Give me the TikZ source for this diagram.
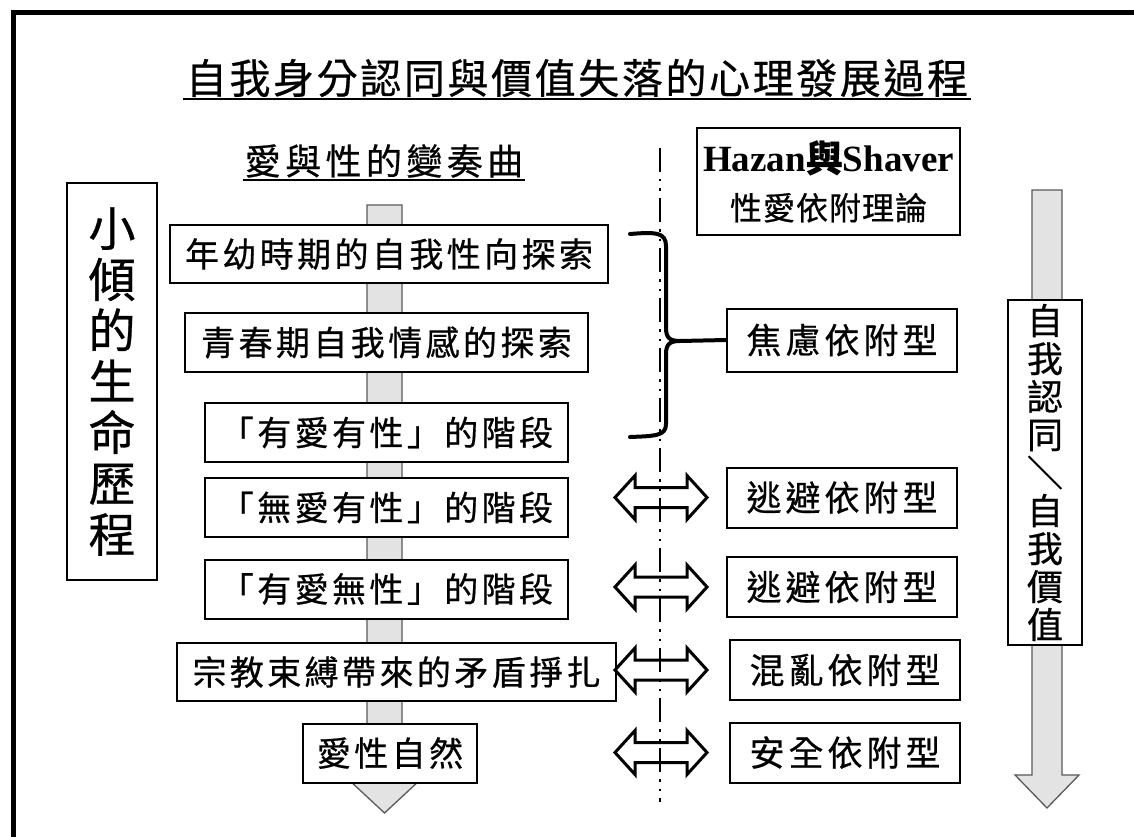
\documentclass[tikz,border=0pt]{standalone}
\usepackage{fontspec}
\setmainfont{Noto Sans CJK TC}[FakeBold=0.6]
\newfontfamily\latinb{Liberation Serif}
\usetikzlibrary{calc}
\ExplSyntaxOn
\NewDocumentCommand\spc{O{0.2em} m}{\tl_map_inline:nn {#2}{##1\kern#1}\unkern}
\ExplSyntaxOff
\tikzset{
  box/.style={draw, line width=2pt, fill=white, inner sep=0pt, font=\fontsize{34}{34}\selectfont},
  rbox/.style={box, font=\fontsize{35}{35}\selectfont, minimum width=230pt, minimum height=60pt},
  graybar/.style={fill=gray!22, draw=gray!70!black, line width=1.3pt},
  hollow/.style={draw, line width=3pt, line join=miter},
  dashdot/.style={line width=2.5pt, dash pattern=on 24pt off 7pt on 2.5pt off 7pt on 2.5pt off 7pt},
  dblarr/.pic={\draw[hollow] (-46,0) -- (-26,-22) -- (-26,-10) -- (26,-10) -- (26,-22) -- (46,0) -- (26,22) -- (26,10) -- (-26,10) -- (-26,22) -- cycle;},
}
\begin{document}
\begin{tikzpicture}[x=1pt,y=-1pt]
\useasboundingbox (0,0) rectangle (1134,837);
\fill[white] (0,0) rectangle (1134,837);
% frame
\draw[line width=5pt] (13,13) rectangle (1150,860);

% title
\node[inner ysep=0pt, inner xsep=3pt, font=\fontsize{41}{41}\selectfont] (title) at (577,78) {\spc[2.6pt]{自我身分認同與價值失落的心理發展過程}};
\draw[line width=2pt] ([yshift=-2pt]title.south west) -- ([yshift=-2pt]title.south east);

\node[inner ysep=0pt, inner xsep=2pt, font=\fontsize{36}{36}\selectfont] (sub) at (384,161) {\spc[4.4pt]{愛與性的變奏曲}};
\draw[line width=2pt] ([yshift=-2pt]sub.south west) -- ([yshift=-2pt]sub.south east);

% gray arrows
\draw[graybar] (367,205) -- (402,205) -- (402,780) -- (420,780) -- (384.5,813) -- (349,780) -- (367,780) -- cycle;
\draw[graybar] (1032,190) -- (1062,190) -- (1062,775) -- (1079,775) -- (1047,808) -- (1015,775) -- (1032,775) -- cycle;

% dash-dot line
\coordinate (dtop) at (660,148);
\coordinate (dbot) at (660,802);
\draw[dashdot] (dtop) -- (dbot);

% left vertical box
\node[box, minimum width=90pt, minimum height=397pt, align=center, font=\fontsize{47}{51}\selectfont] (life) at (112,381.5) {小\\傾\\的\\生\\命\\歷\\程};

% right vertical box
\node[box, minimum width=74pt, minimum height=345pt, align=center, font=\fontsize{36}{38}\selectfont] (self) at (1045,472.5) {自\\我\\認\\同\\＼\\自\\我\\價\\值};

% stage boxes
\node[box, minimum width=438pt, minimum height=58pt] (s1) at (389,254) {\spc[3.4pt]{年幼時期的自我性向探索}};
\node[box, minimum width=403pt, minimum height=59pt] (s2) at (386.5,342.5) {\spc[3.4pt]{青春期自我情感的探索}};
\node[box, minimum width=363pt, minimum height=59pt] (s3) at (386.5,432.5) {\spc[3.4pt]{「有愛有性」的階段}};
\node[box, minimum width=363pt, minimum height=59pt] (s4) at (386.5,507.5) {\spc[3.4pt]{「無愛有性」的階段}};
\node[box, minimum width=363pt, minimum height=59pt] (s5) at (386.5,589) {\spc[3.4pt]{「有愛無性」的階段}};
\node[box, minimum width=439pt, minimum height=58pt] (s6) at (396.5,672) {\spc[3.4pt]{宗教束縛帶來的矛盾掙扎}};
\node[box, minimum width=174pt, minimum height=59pt] (s7) at (390,753) {\spc[3.4pt]{愛性自然}};

% Hazan box
\node[box, minimum width=263pt, minimum height=107pt, align=center, font=\fontsize{32}{48}\selectfont] (hz) at (828.5,181.5)
  {{\fontsize{37}{48}\selectfont\bfseries{\latinb Hazan}與{\latinb Shaver}}\\\spc[1pt]{性愛依附理論}};

% attachment boxes
\node[rbox, minimum height=63pt] (anx) at (842,340) {\spc[4pt]{焦慮依附型}};
\node[rbox] (av1) at (842,497.5) {\spc[4pt]{逃避依附型}};
\node[rbox] (av2) at (842,587) {\spc[4pt]{逃避依附型}};
\node[rbox] (dis) at (845,670) {\spc[4pt]{混亂依附型}};
\node[rbox] (sec) at (845,752.5) {\spc[4pt]{安全依附型}};

% brace
\coordinate (brt) at (630,234);
\coordinate (brb) at (630,437);
\coordinate (brtip) at (680,341);
\draw[line width=4pt, line cap=round, line join=round] (brt) .. controls (655,232) and (666,232) .. (666,246) -- (666,328) .. controls (666,338) and (670,341) .. (brtip) .. controls (670,341) and (666,344) .. (666,354) -- (666,424) .. controls (666,436) and (655,436) .. (brb);
\draw[line width=4pt] (brtip) -- (anx.west);

% double arrows
\pic (da1) at (661,497.5) {dblarr};
\pic (da2) at (661,587) {dblarr};
\pic (da3) at (661,670) {dblarr};
\pic (da4) at (661,752.5) {dblarr};
\end{tikzpicture}
\end{document}
